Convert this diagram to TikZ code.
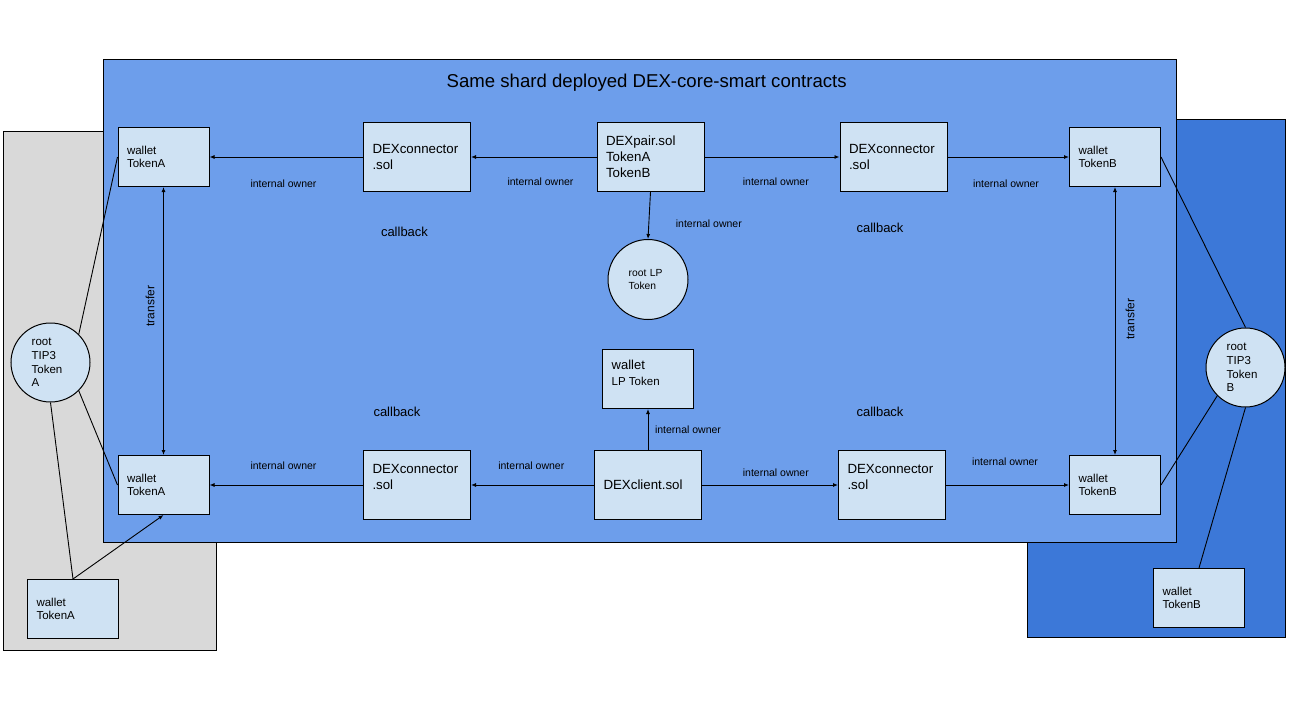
\documentclass[tikz,border=0pt]{standalone}
\usepackage{fontspec}
\setmainfont{Liberation Sans}
\usetikzlibrary{arrows.meta}
\definecolor{mainblue}{HTML}{6D9EEB}
\definecolor{darkblue}{HTML}{3C78D8}
\definecolor{grayfill}{HTML}{D9D9D9}
\definecolor{boxfill}{HTML}{CFE2F3}
\begin{document}
\begin{tikzpicture}[x=1pt,y=-1pt,
  region/.style={draw=black, line width=1pt},
  bx/.style={draw=black, line width=1pt, fill=boxfill, inner xsep=9pt, inner ysep=0pt, align=left},
  circ/.style={circle, draw=black, line width=1pt, fill=boxfill, inner sep=0pt, align=left},
  lbl/.style={font=\fontsize{10.5}{12}\selectfont},
  cb/.style={font=\fontsize{13}{15}\selectfont},
  tr/.style={font=\fontsize{12}{14}\selectfont, rotate=90},
  arr/.style={line width=0.9pt, -{Latex[length=5pt,width=4pt]}},
  darr/.style={line width=0.9pt, {Latex[length=5pt,width=4pt]}-{Latex[length=5pt,width=4pt]}},
  ln/.style={line width=0.9pt},
  wfont/.style={font=\fontsize{11.5}{13.6}\selectfont},
  dfont/.style={font=\fontsize{13.3}{16}\selectfont},
  wbox/.style={bx, wfont, minimum width=91pt, minimum height=59pt, text width=73pt},
  dbox/.style={bx, dfont, minimum width=107pt, minimum height=69pt, text width=89pt}]
\useasboundingbox (0,0) rectangle (1301,725);
% regions
\draw[region, fill=grayfill] (3,131) rectangle (216,650);
\draw[region, fill=darkblue] (1027,119) rectangle (1285,637);
\draw[region, fill=mainblue] (103,60) rectangle (1176,542);
\node[font=\fontsize{18.6}{22}\selectfont] (title) at (646.7,82.7) {Same shard deployed DEX-core-smart contracts};

% nodes
\node[wbox] (wA1) at (163.5,157) {wallet\\TokenA};
\node[wbox] (wA2) at (163.5,485) {wallet\\TokenA};
\node[wbox] (wA3) at (73,609) {wallet\\TokenA};
\node[wbox] (wB1) at (1115,157) {wallet\\TokenB};
\node[wbox] (wB2) at (1115,485) {wallet\\TokenB};
\node[wbox] (wB3) at (1199,598) {wallet\\TokenB};
\node[dbox] (cTL) at (417,157) {DEXconnector\\.sol};
\node[dbox] (cTR) at (893.5,157) {DEXconnector\\.sol};
\node[dbox] (cBL) at (417,485) {DEXconnector\\.sol\\\mbox{}};
\node[dbox] (cBR) at (892,485) {DEXconnector\\.sol\\\mbox{}};
\node[dbox] (pair) at (650.5,157) {DEXpair.sol\\TokenA\\TokenB};
\node[dbox] (client) at (648,485) {DEXclient.sol};
\node[bx, minimum width=91pt, minimum height=59pt] (wLP) at (648,379) {};
\node[anchor=west, align=left, inner sep=0pt, font=\fontsize{13}{16}\selectfont] (wLPt) at (611.5,373) {wallet\\{\fontsize{11.5}{16}\selectfont LP Token}};
\node[circ, minimum size=80pt, text width=38.6pt, font=\fontsize{10.3}{13}\selectfont] (rootLP) at (648,279.5) {root LP\\Token};
\node[circ, minimum size=79pt, text width=37.6pt, wfont] (rootA) at (50.5,362.5) {root\\TIP3\\Token\\A};
\node[circ, minimum size=79pt, text width=37.6pt, wfont] (rootB) at (1245.5,367.5) {root\\TIP3\\Token\\B};

% arrows
\draw[arr] (cTL.west) -- (wA1.east);
\draw[arr] (pair.west) -- (cTL.east);
\draw[arr] (pair.east) -- (cTR.west);
\draw[arr] (cTR.east) -- (wB1.west);
\draw[arr] (pair.south) -- (rootLP.north);
\draw[arr] (client.north) -- (wLP.south);
\draw[arr] (client.west) -- (cBL.east);
\draw[arr] (client.east) -- (cBR.west);
\draw[arr] (cBL.west) -- (wA2.east);
\draw[arr] (cBR.east) -- (wB2.west);
\draw[darr] (wA1.south) -- (wA2.north);
\draw[darr] (wB1.south) -- (wB2.north);
\draw[arr] (wA3.north) -- (wA2.south);
% plain lines
\draw[ln] (rootA.45) -- (wA1.west);
\draw[ln] (rootA.-45) -- (wA2.west);
\draw[ln] (rootA.south) -- (wA3.north);
\draw[ln] (wB1.east) -- (rootB.north);
\draw[ln] (wB2.east) -- (rootB.-135);
\draw[ln] (rootB.south) -- (wB3.north);

% labels
\node[lbl] (l1) at (283.5,183.7) {internal owner};
\node[lbl] (l2) at (540.5,182) {internal owner};
\node[lbl] (l3) at (775.8,182) {internal owner};
\node[lbl] (l4) at (1006,183.7) {internal owner};
\node[lbl] (l5) at (708.8,223.7) {internal owner};
\node[lbl] (l6) at (688,429.3) {internal owner};
\node[lbl] (l7) at (531.3,466) {internal owner};
\node[lbl] (l8) at (775.8,472.3) {internal owner};
\node[lbl] (l9) at (283.5,466) {internal owner};
\node[lbl] (l10) at (1005,461.7) {internal owner};
\node[cb] (cb1) at (404.5,231.7) {callback};
\node[cb] (cb2) at (880,228.3) {callback};
\node[cb] (cb3) at (397,412) {callback};
\node[cb] (cb4) at (880,412) {callback};
\node[tr] (t1) at (150,306) {transfer};
\node[tr] (t2) at (1130,319) {transfer};
\end{tikzpicture}
\end{document}
